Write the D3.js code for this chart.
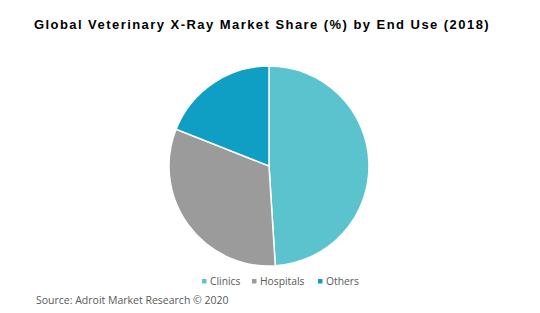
<!DOCTYPE html>
<html lang="en">
<head>
    <meta charset="UTF-8">
    <title>Global Veterinary X-Ray Market Share</title>
    <script src="https://cdnjs.cloudflare.com/ajax/libs/d3/7.8.5/d3.min.js"></script>
    <style>
        body { margin: 0; background: #fff; }
    </style>
</head>
<body>
    <svg width="540" height="313"></svg>
</body>
</html>
<script>
   // data
   var categories = ['Clinics', 'Hospitals', 'Others'];
   var shares = [49, 32, 19];
   var colors = ['#5BC3CD', '#9B9B9B', '#0F9FC4'];

   var svg = d3.select('svg');

   // title
   svg.append('text')
      .attr('x', 262)
      .attr('y', 29)
      .attr('text-anchor', 'middle')
      .style('font-family', 'Liberation Sans, Arial, sans-serif')
      .style('font-weight', 'bold')
      .style('font-size', '13px')
      .style('letter-spacing', '1.45px')
      .style('fill', '#000')
      .text('Global Veterinary X-Ray Market Share (%) by End Use (2018)');

   // pie
   var pie = d3.pie().sort(null).value(function(d){ return d; });
   var arc = d3.arc().innerRadius(0).outerRadius(100);
   var g = svg.append('g').attr('transform', 'translate(269,166)');

   g.selectAll('path')
      .data(pie(shares))
      .enter().append('path')
      .attr('d', arc)
      .attr('fill', function(d, i){ return colors[i]; })
      .attr('stroke', '#fff')
      .attr('stroke-width', 1.5);

   // legend
   var legendX = [202, 252, 318];
   var legend = svg.append('g').selectAll('g')
      .data(categories)
      .enter().append('g')
      .attr('transform', function(d, i){ return 'translate(' + legendX[i] + ',281)'; });

   legend.append('rect')
      .attr('x', 0).attr('y', -2)
      .attr('width', 4.5).attr('height', 4.5)
      .attr('fill', function(d, i){ return colors[i]; });

   legend.append('text')
      .attr('x', 8)
      .attr('y', 4)
      .style('font-family', 'Open Sans, sans-serif')
      .style('font-size', '10.3px')
      .style('fill', '#595959')
      .text(function(d){ return d; });

   // source
   svg.append('text')
      .attr('x', 36)
      .attr('y', 304)
      .style('font-family', 'Open Sans, sans-serif')
      .style('font-size', '10.5px')
      .style('fill', '#595959')
      .text('Source: Adroit Market Research \u00A9 2020');
</script>
